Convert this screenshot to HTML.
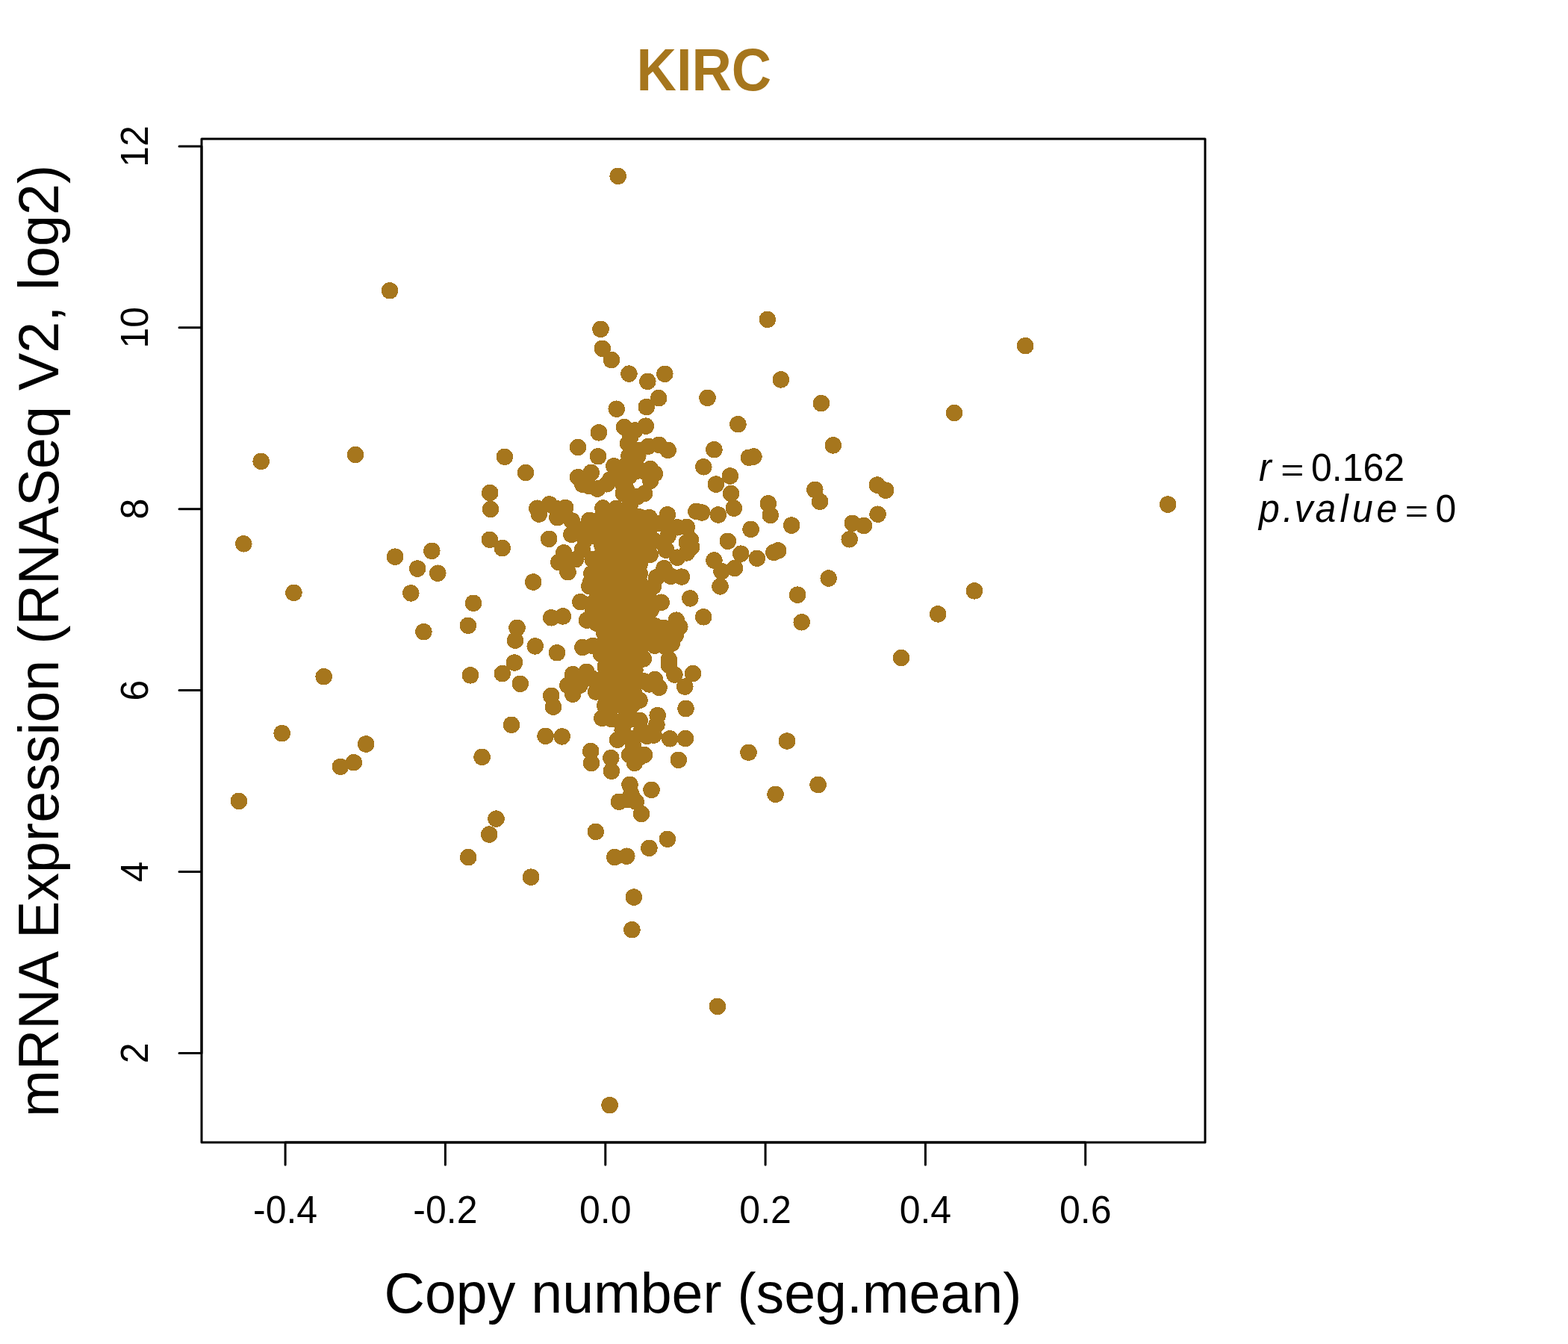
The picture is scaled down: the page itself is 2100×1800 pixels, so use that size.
<!DOCTYPE html>
<html lang="en"><head><meta charset="utf-8"><title>KIRC</title>
<style>
html,body{margin:0;padding:0;background:#fff}
body{width:2100px;height:1800px;overflow:hidden}
svg{display:block;font-family:"Liberation Sans",sans-serif}
</style></head><body>
<svg width="2100" height="1800" viewBox="0 0 2100 1800">
<rect width="2100" height="1800" fill="#fff"/>
<g fill="#A6761D" shape-rendering="crispEdges"><circle cx="802.0" cy="579.4" r="11.25"/><circle cx="774.1" cy="599.0" r="11.25"/><circle cx="801.0" cy="611.3" r="11.25"/><circle cx="835.9" cy="572.0" r="11.25"/><circle cx="864.9" cy="570.7" r="11.25"/><circle cx="850.4" cy="576.4" r="11.25"/><circle cx="841.0" cy="594.1" r="11.25"/><circle cx="844.1" cy="585.2" r="11.25"/><circle cx="868.1" cy="597.8" r="11.25"/><circle cx="882.6" cy="595.9" r="11.25"/><circle cx="894.6" cy="602.9" r="11.25"/><circle cx="854.3" cy="610.5" r="11.25"/><circle cx="842.5" cy="610.5" r="11.25"/><circle cx="822.3" cy="624.3" r="11.25"/><circle cx="791.8" cy="632.9" r="11.25"/><circle cx="774.1" cy="639.2" r="11.25"/><circle cx="780.4" cy="648.9" r="11.25"/><circle cx="788.6" cy="650.8" r="11.25"/><circle cx="800.0" cy="654.6" r="11.25"/><circle cx="812.6" cy="648.3" r="11.25"/><circle cx="871.2" cy="628.1" r="11.25"/><circle cx="876.9" cy="634.4" r="11.25"/><circle cx="871.2" cy="643.9" r="11.25"/><circle cx="853.0" cy="630.6" r="11.25"/><circle cx="834.0" cy="648.3" r="11.25"/><circle cx="854.2" cy="664.9" r="11.25"/><circle cx="863.0" cy="660.9" r="11.25"/><circle cx="831.5" cy="635.7" r="11.25"/><circle cx="837.8" cy="623.1" r="11.25"/><circle cx="844.5" cy="673.5" r="11.25"/><circle cx="807.5" cy="680.5" r="11.25"/><circle cx="834.9" cy="660.9" r="11.25"/><circle cx="719.3" cy="680.7" r="11.25"/><circle cx="735.7" cy="675.4" r="11.25"/><circle cx="757.1" cy="679.8" r="11.25"/><circle cx="746.4" cy="693.1" r="11.25"/><circle cx="765.9" cy="697.5" r="11.25"/><circle cx="721.8" cy="688.6" r="11.25"/><circle cx="789.3" cy="696.8" r="11.25"/><circle cx="765.3" cy="715.8" r="11.25"/><circle cx="735.2" cy="721.8" r="11.25"/><circle cx="893.9" cy="689.3" r="11.25"/><circle cx="869.4" cy="693.1" r="11.25"/><circle cx="919.8" cy="705.9" r="11.25"/><circle cx="907.2" cy="706.3" r="11.25"/><circle cx="924.8" cy="722.7" r="11.25"/><circle cx="926.1" cy="732.8" r="11.25"/><circle cx="919.8" cy="740.4" r="11.25"/><circle cx="892.1" cy="736.6" r="11.25"/><circle cx="870.6" cy="742.9" r="11.25"/><circle cx="889.5" cy="761.2" r="11.25"/><circle cx="879.4" cy="773.2" r="11.25"/><circle cx="912.9" cy="772.5" r="11.25"/><circle cx="898.4" cy="771.9" r="11.25"/><circle cx="853.6" cy="768.1" r="11.25"/><circle cx="942.3" cy="625.3" r="11.25"/><circle cx="932.4" cy="684.9" r="11.25"/><circle cx="755.2" cy="740.4" r="11.25"/><circle cx="779.8" cy="736.6" r="11.25"/><circle cx="748.3" cy="753.0" r="11.25"/><circle cx="760.5" cy="766.2" r="11.25"/><circle cx="771.0" cy="749.2" r="11.25"/><circle cx="714.2" cy="779.5" r="11.25"/><circle cx="796.2" cy="718.0" r="11.25"/><circle cx="810.3" cy="736.6" r="11.25"/><circle cx="793.7" cy="749.2" r="11.25"/><circle cx="792.4" cy="768.1" r="11.25"/><circle cx="791.2" cy="779.5" r="11.25"/><circle cx="825.2" cy="681.1" r="11.25"/><circle cx="825.2" cy="692.4" r="11.25"/><circle cx="844.1" cy="686.1" r="11.25"/><circle cx="856.7" cy="692.4" r="11.25"/><circle cx="808.8" cy="698.7" r="11.25"/><circle cx="831.5" cy="705.0" r="11.25"/><circle cx="850.4" cy="705.0" r="11.25"/><circle cx="882.0" cy="701.3" r="11.25"/><circle cx="818.9" cy="717.7" r="11.25"/><circle cx="837.8" cy="721.4" r="11.25"/><circle cx="856.7" cy="721.4" r="11.25"/><circle cx="875.7" cy="724.0" r="11.25"/><circle cx="894.6" cy="717.7" r="11.25"/><circle cx="825.2" cy="736.6" r="11.25"/><circle cx="841.6" cy="736.6" r="11.25"/><circle cx="856.7" cy="736.6" r="11.25"/><circle cx="907.2" cy="746.7" r="11.25"/><circle cx="808.8" cy="751.7" r="11.25"/><circle cx="825.2" cy="751.7" r="11.25"/><circle cx="841.6" cy="751.7" r="11.25"/><circle cx="853.3" cy="753.0" r="11.25"/><circle cx="808.8" cy="768.1" r="11.25"/><circle cx="825.2" cy="768.1" r="11.25"/><circle cx="841.6" cy="768.1" r="11.25"/><circle cx="806.3" cy="782.0" r="11.25"/><circle cx="822.7" cy="782.0" r="11.25"/><circle cx="839.1" cy="782.0" r="11.25"/><circle cx="853.3" cy="782.0" r="11.25"/><circle cx="924.3" cy="801.4" r="11.25"/><circle cx="942.1" cy="826.3" r="11.25"/><circle cx="738.2" cy="827.3" r="11.25"/><circle cx="753.9" cy="825.4" r="11.25"/><circle cx="716.7" cy="865.4" r="11.25"/><circle cx="746.0" cy="874.3" r="11.25"/><circle cx="738.2" cy="931.8" r="11.25"/><circle cx="741.0" cy="946.7" r="11.25"/><circle cx="730.6" cy="985.8" r="11.25"/><circle cx="752.7" cy="986.4" r="11.25"/><circle cx="791.2" cy="1006.0" r="11.25"/><circle cx="818.3" cy="1015.1" r="11.25"/><circle cx="918.5" cy="949.0" r="11.25"/><circle cx="777.3" cy="806.1" r="11.25"/><circle cx="786.1" cy="830.7" r="11.25"/><circle cx="780.4" cy="867.0" r="11.25"/><circle cx="793.7" cy="865.0" r="11.25"/><circle cx="805.0" cy="876.1" r="11.25"/><circle cx="767.2" cy="903.2" r="11.25"/><circle cx="785.5" cy="900.0" r="11.25"/><circle cx="760.3" cy="917.7" r="11.25"/><circle cx="767.2" cy="929.7" r="11.25"/><circle cx="776.6" cy="917.7" r="11.25"/><circle cx="809.1" cy="847.1" r="11.25"/><circle cx="811.0" cy="893.7" r="11.25"/><circle cx="798.1" cy="926.5" r="11.25"/><circle cx="810.3" cy="945.4" r="11.25"/><circle cx="806.3" cy="961.8" r="11.25"/><circle cx="833.7" cy="978.2" r="11.25"/><circle cx="827.1" cy="990.8" r="11.25"/><circle cx="789.3" cy="785.3" r="11.25"/><circle cx="875.0" cy="785.3" r="11.25"/><circle cx="885.7" cy="806.7" r="11.25"/><circle cx="871.6" cy="817.0" r="11.25"/><circle cx="905.9" cy="830.7" r="11.25"/><circle cx="910.3" cy="839.5" r="11.25"/><circle cx="888.3" cy="840.8" r="11.25"/><circle cx="904.7" cy="850.8" r="11.25"/><circle cx="899.6" cy="861.9" r="11.25"/><circle cx="882.0" cy="859.7" r="11.25"/><circle cx="877.5" cy="838.5" r="11.25"/><circle cx="876.9" cy="864.7" r="11.25"/><circle cx="895.8" cy="883.4" r="11.25"/><circle cx="896.1" cy="891.2" r="11.25"/><circle cx="903.4" cy="903.6" r="11.25"/><circle cx="928.0" cy="901.9" r="11.25"/><circle cx="917.3" cy="919.6" r="11.25"/><circle cx="861.8" cy="882.4" r="11.25"/><circle cx="850.4" cy="897.5" r="11.25"/><circle cx="876.9" cy="910.1" r="11.25"/><circle cx="882.6" cy="920.8" r="11.25"/><circle cx="869.4" cy="916.4" r="11.25"/><circle cx="856.5" cy="937.9" r="11.25"/><circle cx="880.7" cy="958.1" r="11.25"/><circle cx="879.4" cy="970.7" r="11.25"/><circle cx="856.7" cy="965.0" r="11.25"/><circle cx="875.7" cy="984.5" r="11.25"/><circle cx="866.2" cy="985.8" r="11.25"/><circle cx="835.3" cy="970.7" r="11.25"/><circle cx="859.3" cy="978.2" r="11.25"/><circle cx="897.1" cy="989.3" r="11.25"/><circle cx="917.9" cy="989.1" r="11.25"/><circle cx="847.9" cy="998.4" r="11.25"/><circle cx="842.9" cy="1011.0" r="11.25"/><circle cx="863.0" cy="1011.0" r="11.25"/><circle cx="800.0" cy="796.6" r="11.25"/><circle cx="818.9" cy="796.6" r="11.25"/><circle cx="837.8" cy="796.6" r="11.25"/><circle cx="856.7" cy="796.6" r="11.25"/><circle cx="869.4" cy="802.9" r="11.25"/><circle cx="800.0" cy="815.5" r="11.25"/><circle cx="818.9" cy="815.5" r="11.25"/><circle cx="837.8" cy="815.5" r="11.25"/><circle cx="856.7" cy="815.5" r="11.25"/><circle cx="816.4" cy="834.5" r="11.25"/><circle cx="835.3" cy="834.5" r="11.25"/><circle cx="854.2" cy="834.5" r="11.25"/><circle cx="863.0" cy="825.6" r="11.25"/><circle cx="816.4" cy="854.6" r="11.25"/><circle cx="835.3" cy="854.6" r="11.25"/><circle cx="851.7" cy="859.7" r="11.25"/><circle cx="856.7" cy="869.8" r="11.25"/><circle cx="816.4" cy="872.3" r="11.25"/><circle cx="835.3" cy="872.3" r="11.25"/><circle cx="818.9" cy="891.2" r="11.25"/><circle cx="837.8" cy="891.2" r="11.25"/><circle cx="849.2" cy="884.9" r="11.25"/><circle cx="811.3" cy="910.1" r="11.25"/><circle cx="829.0" cy="910.1" r="11.25"/><circle cx="846.6" cy="910.1" r="11.25"/><circle cx="811.3" cy="929.0" r="11.25"/><circle cx="829.0" cy="929.0" r="11.25"/><circle cx="846.6" cy="929.0" r="11.25"/><circle cx="818.9" cy="948.0" r="11.25"/><circle cx="837.8" cy="948.0" r="11.25"/><circle cx="845.4" cy="945.4" r="11.25"/><circle cx="818.9" cy="963.1" r="11.25"/><circle cx="837.8" cy="960.6" r="11.25"/><circle cx="845.4" cy="963.1" r="11.25"/><circle cx="792.0" cy="1022.1" r="11.25"/><circle cx="818.9" cy="1032.8" r="11.25"/><circle cx="849.8" cy="1021.9" r="11.25"/><circle cx="856.7" cy="1014.3" r="11.25"/><circle cx="908.8" cy="1017.8" r="11.25"/><circle cx="843.5" cy="1050.9" r="11.25"/><circle cx="872.5" cy="1057.8" r="11.25"/><circle cx="845.4" cy="1063.5" r="11.25"/><circle cx="829.0" cy="1073.8" r="11.25"/><circle cx="851.7" cy="1073.6" r="11.25"/><circle cx="859.0" cy="1090.0" r="11.25"/><circle cx="841.6" cy="1071.1" r="11.25"/><circle cx="797.8" cy="1113.9" r="11.25"/><circle cx="893.9" cy="1123.8" r="11.25"/><circle cx="869.4" cy="1135.8" r="11.25"/><circle cx="823.3" cy="1148.0" r="11.25"/><circle cx="839.3" cy="1146.7" r="11.25"/><circle cx="711.1" cy="1174.7" r="11.25"/><circle cx="848.9" cy="1201.6" r="11.25"/><circle cx="522.0" cy="389.3" r="11.25"/><circle cx="349.7" cy="617.9" r="11.25"/><circle cx="476.1" cy="609.0" r="11.25"/><circle cx="675.9" cy="611.8" r="11.25"/><circle cx="703.9" cy="633.0" r="11.25"/><circle cx="827.7" cy="235.9" r="11.25"/><circle cx="1027.8" cy="427.9" r="11.25"/><circle cx="804.5" cy="440.8" r="11.25"/><circle cx="806.8" cy="466.8" r="11.25"/><circle cx="818.9" cy="482.1" r="11.25"/><circle cx="842.4" cy="500.6" r="11.25"/><circle cx="867.3" cy="510.9" r="11.25"/><circle cx="890.3" cy="500.8" r="11.25"/><circle cx="1045.9" cy="508.4" r="11.25"/><circle cx="947.5" cy="532.8" r="11.25"/><circle cx="882.2" cy="533.1" r="11.25"/><circle cx="865.8" cy="545.0" r="11.25"/><circle cx="825.7" cy="547.7" r="11.25"/><circle cx="1099.9" cy="540.2" r="11.25"/><circle cx="988.4" cy="568.2" r="11.25"/><circle cx="956.4" cy="602.2" r="11.25"/><circle cx="1115.8" cy="596.4" r="11.25"/><circle cx="1003.0" cy="612.8" r="11.25"/><circle cx="1009.4" cy="611.5" r="11.25"/><circle cx="977.8" cy="637.5" r="11.25"/><circle cx="1373.1" cy="463.2" r="11.25"/><circle cx="1278.0" cy="553.0" r="11.25"/><circle cx="656.2" cy="660.0" r="11.25"/><circle cx="657.0" cy="681.9" r="11.25"/><circle cx="326.3" cy="728.3" r="11.25"/><circle cx="655.9" cy="722.8" r="11.25"/><circle cx="672.8" cy="734.1" r="11.25"/><circle cx="578.3" cy="737.9" r="11.25"/><circle cx="529.1" cy="745.7" r="11.25"/><circle cx="559.1" cy="761.6" r="11.25"/><circle cx="586.3" cy="767.7" r="11.25"/><circle cx="393.4" cy="793.9" r="11.25"/><circle cx="550.3" cy="794.4" r="11.25"/><circle cx="634.0" cy="807.8" r="11.25"/><circle cx="626.9" cy="837.8" r="11.25"/><circle cx="567.4" cy="846.1" r="11.25"/><circle cx="692.5" cy="840.8" r="11.25"/><circle cx="690.0" cy="857.7" r="11.25"/><circle cx="689.0" cy="887.5" r="11.25"/><circle cx="672.8" cy="902.1" r="11.25"/><circle cx="630.0" cy="904.4" r="11.25"/><circle cx="696.8" cy="915.8" r="11.25"/><circle cx="433.7" cy="906.2" r="11.25"/><circle cx="685.0" cy="970.8" r="11.25"/><circle cx="377.7" cy="982.1" r="11.25"/><circle cx="490.2" cy="996.5" r="11.25"/><circle cx="473.8" cy="1021.2" r="11.25"/><circle cx="455.9" cy="1026.8" r="11.25"/><circle cx="645.6" cy="1013.9" r="11.25"/><circle cx="319.9" cy="1072.9" r="11.25"/><circle cx="1564.1" cy="675.6" r="11.25"/><circle cx="1174.8" cy="649.6" r="11.25"/><circle cx="1186.2" cy="656.7" r="11.25"/><circle cx="1175.6" cy="688.7" r="11.25"/><circle cx="1305.0" cy="791.4" r="11.25"/><circle cx="1256.1" cy="822.4" r="11.25"/><circle cx="1206.9" cy="881.0" r="11.25"/><circle cx="664.5" cy="1096.6" r="11.25"/><circle cx="655.2" cy="1117.6" r="11.25"/><circle cx="627.2" cy="1148.1" r="11.25"/><circle cx="846.4" cy="1245.2" r="11.25"/><circle cx="960.9" cy="1347.9" r="11.25"/><circle cx="816.6" cy="1480.1" r="11.25"/><circle cx="958.9" cy="648.6" r="11.25"/><circle cx="979.1" cy="661.0" r="11.25"/><circle cx="982.9" cy="680.7" r="11.25"/><circle cx="961.9" cy="689.5" r="11.25"/><circle cx="940.0" cy="686.5" r="11.25"/><circle cx="1091.3" cy="655.9" r="11.25"/><circle cx="1098.1" cy="671.8" r="11.25"/><circle cx="1028.8" cy="674.4" r="11.25"/><circle cx="1031.8" cy="690.0" r="11.25"/><circle cx="1060.1" cy="703.6" r="11.25"/><circle cx="1005.6" cy="708.9" r="11.25"/><circle cx="1141.8" cy="700.8" r="11.25"/><circle cx="1156.9" cy="704.1" r="11.25"/><circle cx="1137.7" cy="722.3" r="11.25"/><circle cx="974.8" cy="724.8" r="11.25"/><circle cx="992.2" cy="741.7" r="11.25"/><circle cx="1013.9" cy="747.8" r="11.25"/><circle cx="1036.3" cy="739.9" r="11.25"/><circle cx="1042.1" cy="737.4" r="11.25"/><circle cx="956.4" cy="750.5" r="11.25"/><circle cx="984.1" cy="760.9" r="11.25"/><circle cx="966.5" cy="765.2" r="11.25"/><circle cx="964.5" cy="785.4" r="11.25"/><circle cx="1109.7" cy="774.5" r="11.25"/><circle cx="1068.1" cy="796.7" r="11.25"/><circle cx="1073.7" cy="833.3" r="11.25"/><circle cx="1054.0" cy="992.5" r="11.25"/><circle cx="1002.5" cy="1007.8" r="11.25"/><circle cx="1095.6" cy="1051.0" r="11.25"/><circle cx="1038.6" cy="1063.8" r="11.25"/><circle cx="855.5" cy="602.9" r="11.25"/><circle cx="778.5" cy="708.8" r="11.25"/><circle cx="783.6" cy="722.7" r="11.25"/><circle cx="793.7" cy="708.8" r="11.25"/><circle cx="800.0" cy="707.6" r="11.25"/><circle cx="869.4" cy="708.8" r="11.25"/><circle cx="866.8" cy="717.7" r="11.25"/><circle cx="894.6" cy="702.5" r="11.25"/><circle cx="919.8" cy="726.5" r="11.25"/><circle cx="863.0" cy="727.7" r="11.25"/><circle cx="759.6" cy="753.0" r="11.25"/><circle cx="842.2" cy="638.2" r="11.25"/><circle cx="839.1" cy="655.9" r="11.25"/><circle cx="860.5" cy="630.6" r="11.25"/><circle cx="820.2" cy="705.0" r="11.25"/><circle cx="826.5" cy="725.2" r="11.25"/><circle cx="798.7" cy="759.9" r="11.25"/><circle cx="833.4" cy="760.5" r="11.25"/><circle cx="847.9" cy="620.5" r="11.25"/><circle cx="839.1" cy="696.8" r="11.25"/><circle cx="745.1" cy="681.1" r="11.25"/><circle cx="887.0" cy="726.5" r="11.25"/><circle cx="806.3" cy="692.4" r="11.25"/><circle cx="806.3" cy="705.0" r="11.25"/><circle cx="806.3" cy="717.7" r="11.25"/><circle cx="806.3" cy="730.3" r="11.25"/><circle cx="806.3" cy="742.9" r="11.25"/><circle cx="806.3" cy="755.5" r="11.25"/><circle cx="806.3" cy="768.1" r="11.25"/><circle cx="818.9" cy="692.4" r="11.25"/><circle cx="818.9" cy="730.3" r="11.25"/><circle cx="818.9" cy="742.9" r="11.25"/><circle cx="818.9" cy="755.5" r="11.25"/><circle cx="818.9" cy="768.1" r="11.25"/><circle cx="818.9" cy="780.7" r="11.25"/><circle cx="831.5" cy="692.4" r="11.25"/><circle cx="831.5" cy="717.7" r="11.25"/><circle cx="831.5" cy="730.3" r="11.25"/><circle cx="831.5" cy="742.9" r="11.25"/><circle cx="831.5" cy="755.5" r="11.25"/><circle cx="831.5" cy="768.1" r="11.25"/><circle cx="831.5" cy="780.7" r="11.25"/><circle cx="844.1" cy="692.4" r="11.25"/><circle cx="844.1" cy="705.0" r="11.25"/><circle cx="844.1" cy="717.7" r="11.25"/><circle cx="844.1" cy="730.3" r="11.25"/><circle cx="844.1" cy="742.9" r="11.25"/><circle cx="844.1" cy="755.5" r="11.25"/><circle cx="844.1" cy="768.1" r="11.25"/><circle cx="844.1" cy="780.7" r="11.25"/><circle cx="856.7" cy="705.0" r="11.25"/><circle cx="856.7" cy="717.7" r="11.25"/><circle cx="856.7" cy="730.3" r="11.25"/><circle cx="856.7" cy="742.9" r="11.25"/><circle cx="856.7" cy="755.5" r="11.25"/><circle cx="856.7" cy="768.1" r="11.25"/><circle cx="856.7" cy="780.7" r="11.25"/><circle cx="791.2" cy="809.2" r="11.25"/><circle cx="793.7" cy="821.8" r="11.25"/><circle cx="798.7" cy="834.5" r="11.25"/><circle cx="800.0" cy="806.7" r="11.25"/><circle cx="869.4" cy="847.1" r="11.25"/><circle cx="856.7" cy="844.5" r="11.25"/><circle cx="875.7" cy="852.1" r="11.25"/><circle cx="863.0" cy="912.6" r="11.25"/><circle cx="866.8" cy="837.0" r="11.25"/><circle cx="863.0" cy="859.7" r="11.25"/><circle cx="811.3" cy="790.3" r="11.25"/><circle cx="811.3" cy="802.9" r="11.25"/><circle cx="811.3" cy="815.5" r="11.25"/><circle cx="811.3" cy="828.1" r="11.25"/><circle cx="811.3" cy="840.8" r="11.25"/><circle cx="811.3" cy="853.4" r="11.25"/><circle cx="811.3" cy="866.0" r="11.25"/><circle cx="811.3" cy="878.6" r="11.25"/><circle cx="811.3" cy="891.2" r="11.25"/><circle cx="811.3" cy="903.8" r="11.25"/><circle cx="811.3" cy="916.4" r="11.25"/><circle cx="811.3" cy="941.7" r="11.25"/><circle cx="823.9" cy="790.3" r="11.25"/><circle cx="823.9" cy="802.9" r="11.25"/><circle cx="823.9" cy="815.5" r="11.25"/><circle cx="823.9" cy="828.1" r="11.25"/><circle cx="823.9" cy="840.8" r="11.25"/><circle cx="823.9" cy="853.4" r="11.25"/><circle cx="823.9" cy="866.0" r="11.25"/><circle cx="823.9" cy="878.6" r="11.25"/><circle cx="823.9" cy="891.2" r="11.25"/><circle cx="823.9" cy="903.8" r="11.25"/><circle cx="823.9" cy="916.4" r="11.25"/><circle cx="823.9" cy="929.0" r="11.25"/><circle cx="823.9" cy="941.7" r="11.25"/><circle cx="836.6" cy="790.3" r="11.25"/><circle cx="836.6" cy="802.9" r="11.25"/><circle cx="836.6" cy="828.1" r="11.25"/><circle cx="836.6" cy="840.8" r="11.25"/><circle cx="836.6" cy="866.0" r="11.25"/><circle cx="836.6" cy="878.6" r="11.25"/><circle cx="836.6" cy="903.8" r="11.25"/><circle cx="836.6" cy="916.4" r="11.25"/><circle cx="836.6" cy="929.0" r="11.25"/><circle cx="836.6" cy="941.7" r="11.25"/><circle cx="849.2" cy="790.3" r="11.25"/><circle cx="849.2" cy="802.9" r="11.25"/><circle cx="849.2" cy="815.5" r="11.25"/><circle cx="849.2" cy="828.1" r="11.25"/><circle cx="849.2" cy="840.8" r="11.25"/><circle cx="849.2" cy="853.4" r="11.25"/><circle cx="849.2" cy="866.0" r="11.25"/><circle cx="849.2" cy="878.6" r="11.25"/><circle cx="849.2" cy="891.2" r="11.25"/><circle cx="849.2" cy="903.8" r="11.25"/><circle cx="849.2" cy="916.4" r="11.25"/><circle cx="849.2" cy="929.0" r="11.25"/><circle cx="849.2" cy="941.7" r="11.25"/><circle cx="792.4" cy="908.2" r="11.25"/><circle cx="817.3" cy="642.4" r="11.25"/><circle cx="893.0" cy="867.2" r="11.25"/><circle cx="891.4" cy="854.6" r="11.25"/><circle cx="846.7" cy="989.3" r="11.25"/></g>
<g fill="none" stroke="#000" stroke-width="3" stroke-linecap="round" stroke-linejoin="round">
<rect x="270" y="186" width="1344" height="1344"/>
<path d="M382.1 1530H1453.7M270 1410.4V195.9M382.1 1530v30M596.4 1530v30M810.8 1530v30M1025.1 1530v30M1239.4 1530v30M1453.7 1530v30M270 1410.4h-30M270 1167.5h-30M270 924.6h-30M270 681.7h-30M270 438.8h-30M270 195.9h-30"/>
</g>
<g font-size="50" fill="#000"><text transform="translate(382.1,1638.2) scale(1,1.04)" text-anchor="middle">-0.4</text><text transform="translate(596.4,1638.2) scale(1,1.04)" text-anchor="middle">-0.2</text><text transform="translate(810.8,1638.2) scale(1,1.04)" text-anchor="middle">0.0</text><text transform="translate(1025.1,1638.2) scale(1,1.04)" text-anchor="middle">0.2</text><text transform="translate(1239.4,1638.2) scale(1,1.04)" text-anchor="middle">0.4</text><text transform="translate(1453.7,1638.2) scale(1,1.04)" text-anchor="middle">0.6</text><text transform="translate(198,1410.4) rotate(-90) scale(1,1.03)" text-anchor="middle">2</text><text transform="translate(198,1167.5) rotate(-90) scale(1,1.03)" text-anchor="middle">4</text><text transform="translate(198,924.6) rotate(-90) scale(1,1.03)" text-anchor="middle">6</text><text transform="translate(198,681.7) rotate(-90) scale(1,1.03)" text-anchor="middle">8</text><text transform="translate(198,438.8) rotate(-90) scale(1,1.03)" text-anchor="middle">10</text><text transform="translate(198,195.9) rotate(-90) scale(1,1.03)" text-anchor="middle">12</text></g>
<text transform="translate(942.8,121.1) scale(0.985,1.07)" font-size="75" font-weight="bold" fill="#A6761D" text-anchor="middle">KIRC</text>
<text transform="translate(941.4,1758.2) scale(1.004,1.02)" font-size="75" text-anchor="middle">Copy number (seg.mean)</text>
<text transform="translate(78,858.5) rotate(-90) scale(1.0064,1.02)" font-size="75" text-anchor="middle">mRNA Expression (RNASeq V2, log2)</text>
<g font-size="50">
<text transform="translate(1686,644.3) scale(1,1.04)" font-style="italic">r</text>
<text transform="translate(1715.2,644.3) scale(1.07,0.85)">=</text>
<text transform="translate(1756,644.3) scale(1,1.04)">0.162</text>
<text transform="translate(0,699.3) scale(1,1.04)" font-style="italic" x="1686 1718 1733.6 1761.5 1794.4 1810.9 1843.4">p.value</text>
<text transform="translate(1881.8,699.3) scale(1.07,0.85)">=</text>
<text transform="translate(1922.6,699.3) scale(1,1.04)">0</text>
</g>
</svg>
</body></html>
